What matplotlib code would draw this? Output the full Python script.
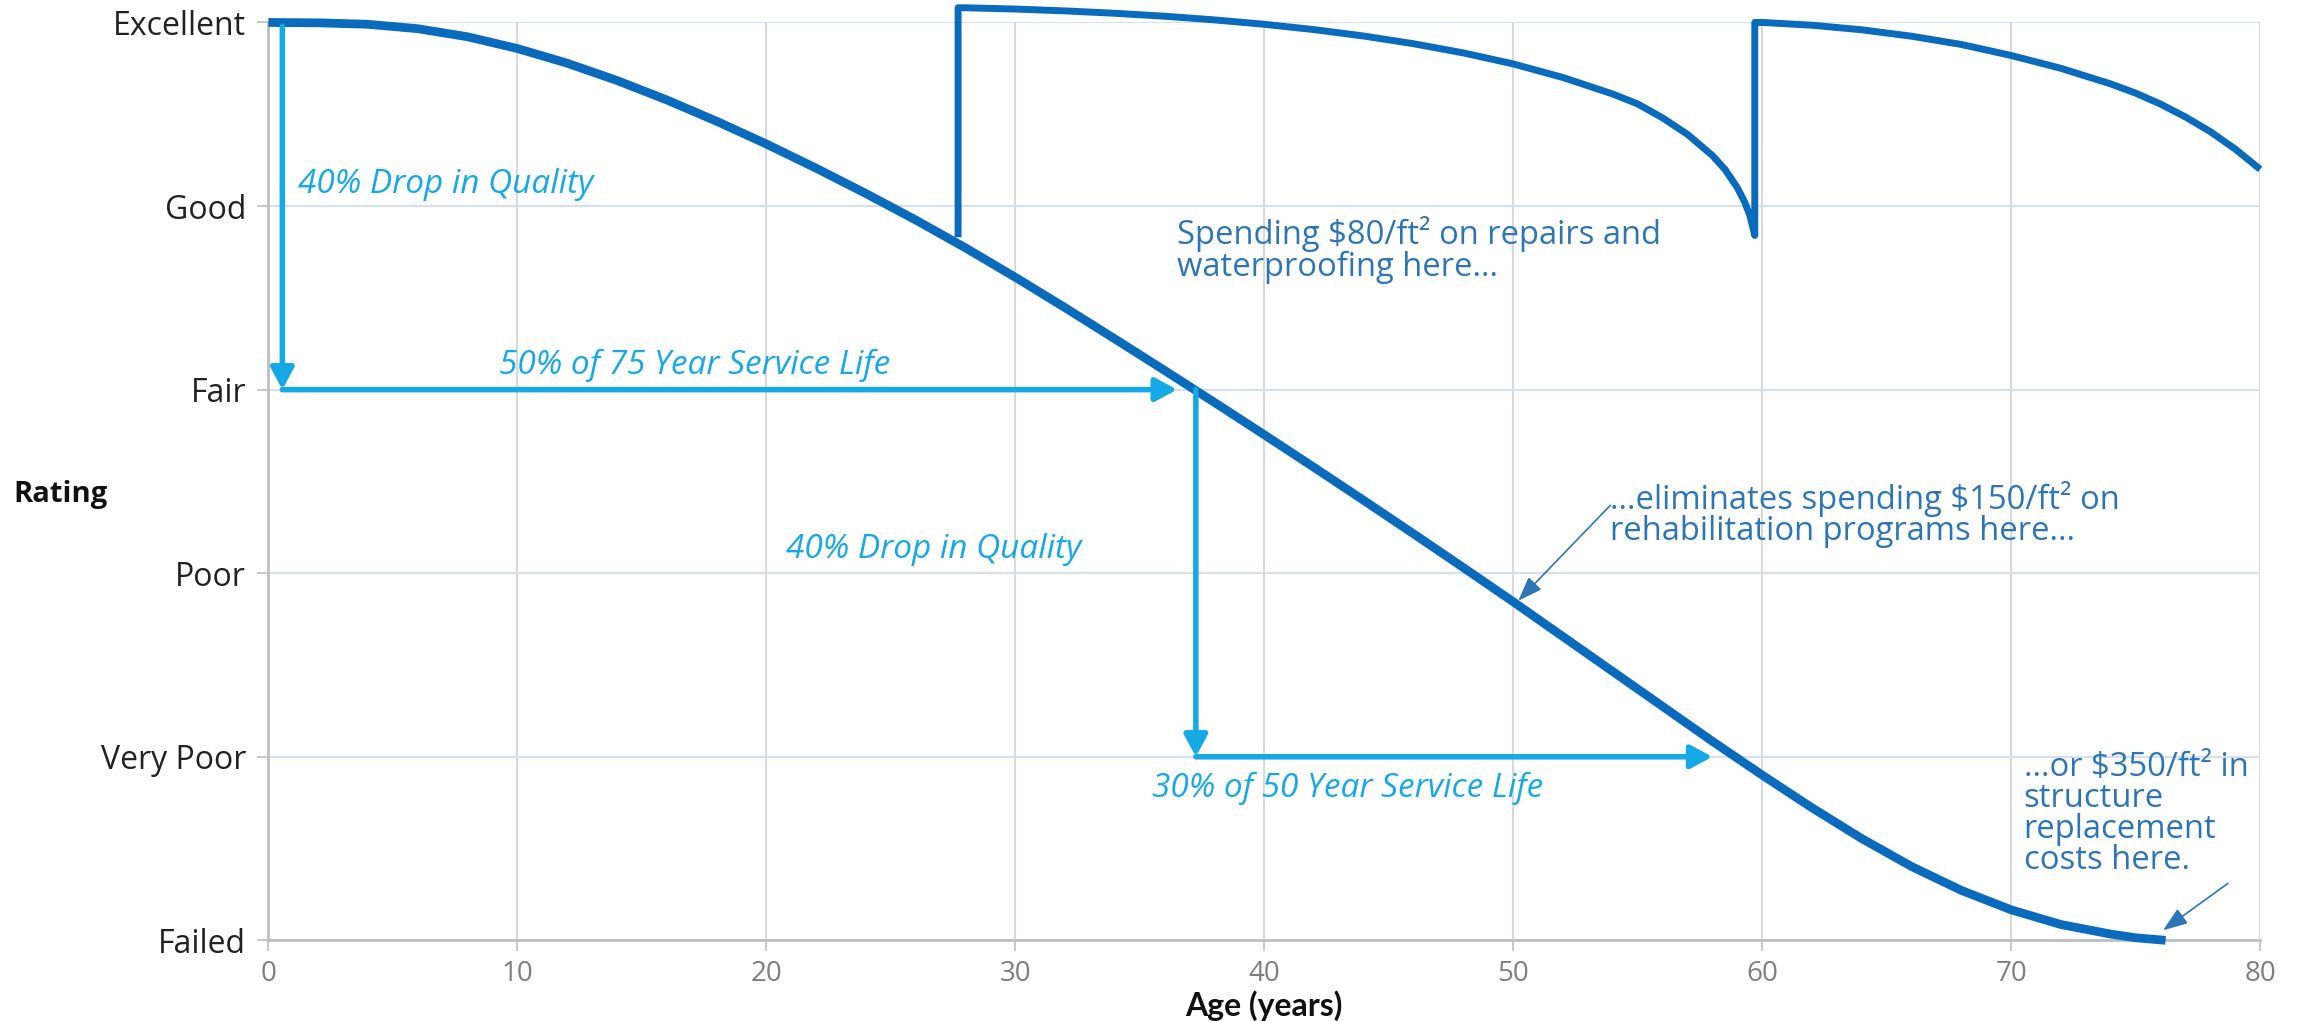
import matplotlib
matplotlib.use("Agg")
import matplotlib.pyplot as plt

# rating scale, 0 = Failed ... 5 = Excellent
rating_names = ["Failed", "Very Poor", "Poor", "Fair", "Good", "Excellent"]
age_ticks = [0, 10, 20, 30, 40, 50, 60, 70, 80]

# deterioration without maintenance
age_main = [0, 2, 4, 6, 8, 10, 12, 14, 16, 18, 20, 22, 24, 26, 28, 30, 32, 34, 36,
            38, 40, 42, 44, 46, 48, 50, 52, 54, 56, 58, 60, 62, 64, 66, 68, 70,
            72, 74, 75, 76.2]
rating_main = [5.000, 4.998, 4.990, 4.966, 4.922, 4.858, 4.778, 4.684, 4.578,
               4.462, 4.338, 4.206, 4.068, 3.924, 3.772, 3.612, 3.446, 3.276,
               3.104, 2.930, 2.754, 2.576, 2.396, 2.214, 2.030, 1.844, 1.654,
               1.464, 1.274, 1.084, 0.900, 0.722, 0.554, 0.402, 0.272, 0.166,
               0.086, 0.034, 0.014, 0.0]

# deterioration with repairs + waterproofing at ~28 and ~60 years
age_repair = [27.7, 27.7, 28, 30, 32, 34, 36, 38, 40, 42, 44, 46, 48, 50, 52, 54,
              55, 56, 57, 58, 58.5, 59, 59.3, 59.5, 59.7,
              59.7, 60, 62, 64, 66, 68, 70, 72, 74, 75, 76, 77, 78, 79, 80]
rating_repair = [3.83, 5.08, 5.08, 5.073, 5.063, 5.05, 5.034, 5.014, 4.99, 4.961,
                 4.926, 4.884, 4.834, 4.774, 4.70, 4.61, 4.556, 4.48, 4.39, 4.275,
                 4.20, 4.10, 4.02, 3.95, 3.84,
                 5.0, 5.0, 4.985, 4.96, 4.925, 4.88, 4.82, 4.75, 4.665, 4.615,
                 4.555, 4.485, 4.405, 4.31, 4.20]

# service life arrows: (x0, y0, x1, y1)
life_arrows = [(0.56, 4.98, 0.56, 3.0),
               (0.56, 3.0, 36.5, 3.0),
               (37.25, 3.0, 37.25, 1.0),
               (37.25, 1.0, 58.0, 1.0)]
life_labels = [("40% Drop in Quality", 1.2, 4.12, "left"),
               ("50% of 75 Year Service Life", 17.1, 3.13, "center"),
               ("40% Drop in Quality", 20.8, 2.13, "left"),
               ("30% of 50 Year Service Life", 35.5, 0.83, "left")]

# cost notes: text, text position, arrow tail, arrow head
cost_notes = [("Spending \\$80/ft\u00b2 on repairs and\nwaterproofing here...",
               (36.5, 3.76), (36.8, 3.98), (28.3, 5.01)),
              ("...eliminates spending \\$150/ft\u00b2 on\nrehabilitation programs here...",
               (53.9, 2.32), (53.9, 2.37), (50.2, 1.85)),
              ("...or \\$350/ft\u00b2 in\nstructure\nreplacement\ncosts here.",
               (70.5, 0.69), (78.7, 0.31), (76.1, 0.055))]

dark_blue = "#0A6BBD"
cyan = "#17A8E6"
note_blue = "#2E75B6"

fig = plt.figure(figsize=(23, 10.21), dpi=100)
ax = fig.add_axes([0.1167, 0.079, 0.866, 0.899])

ax.plot(age_main, rating_main, color=dark_blue, lw=6.3, solid_capstyle="butt",
        solid_joinstyle="round", clip_on=False, zorder=4)
ax.plot(age_repair, rating_repair, color=dark_blue, lw=5, solid_capstyle="butt",
        solid_joinstyle="round", clip_on=False, zorder=4)

for x0, y0, x1, y1 in life_arrows:
    ax.annotate("", xy=(x1, y1), xytext=(x0, y0),
                arrowprops=dict(arrowstyle="-|>,head_length=1.3,head_width=0.7",
                                color=cyan, lw=4, shrinkA=0, shrinkB=0),
                zorder=5)
for txt, x, y, ha in life_labels:
    ax.text(x, y, txt, color=cyan, fontsize=24, fontstyle="italic",
            family="Open Sans", ha=ha, va="center")

for txt, (tx, ty), tail, head in cost_notes:
    ax.text(tx, ty, txt, color=note_blue, fontsize=23.6, family="Open Sans",
            ha="left", va="center", linespacing=0.92)
    ax.annotate("", xy=head, xytext=tail,
                arrowprops=dict(arrowstyle="-|>,head_length=1.5,head_width=0.55",
                                color=note_blue, lw=1.2, shrinkA=0, shrinkB=0))

ax.set_xlim(0, 80)
ax.set_ylim(0, 5)
ax.set_xticks(age_ticks)
ax.set_yticks(range(6))
ax.set_yticklabels(rating_names, family="Open Sans", fontsize=23, color="#222222")
ax.tick_params(axis="x", labelsize=20, labelcolor="#7F7F7F", color="#BFBFBF",
               length=8, width=1.2, pad=6)
ax.tick_params(axis="y", color="#BFBFBF", length=8, width=1.2, pad=8)
for lbl in ax.get_xticklabels():
    lbl.set_family("Open Sans")

ax.grid(axis="x", color="#D9D9D9", lw=1.5)
ax.grid(axis="y", color="#D5E0EA", lw=1.5)
ax.set_axisbelow(True)
for side in ("top", "right"):
    ax.spines[side].set_visible(False)
ax.spines["left"].set_color("#BFBFBF")
ax.spines["left"].set_linewidth(2)
ax.spines["bottom"].set_color("#BFBFBF")
ax.spines["bottom"].set_linewidth(2)

ax.set_xlabel("Age (years)", fontsize=23, fontweight="bold", family="Lato",
              color="#111111", labelpad=2)
fig.text(0.006, 1 - 337 / 696, "Rating", fontsize=21, fontweight="bold",
         family="Open Sans", color="#111111", ha="left", va="center")

fig.savefig("out.png", dpi=100, facecolor="white")
